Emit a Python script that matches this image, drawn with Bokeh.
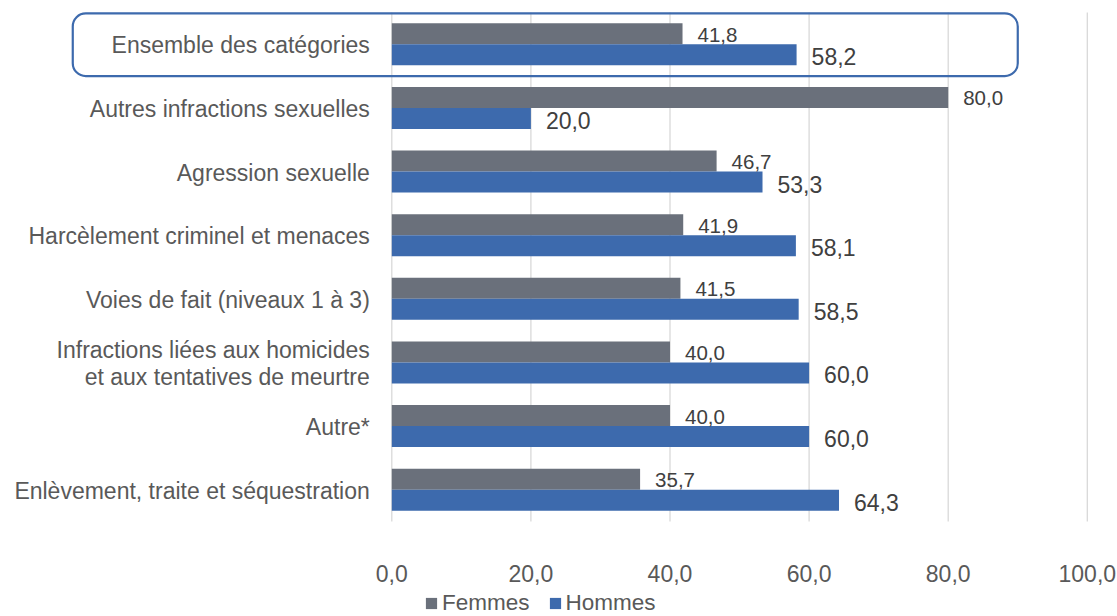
from bokeh.plotting import figure
from bokeh.models import (Range1d, BoxAnnotation, Legend, LegendItem,
                          ColumnDataSource)
from bokeh.embed import file_html
from bokeh.resources import INLINE
from bokeh.core.properties import value

# ---------------- data ----------------
categories = [
    "Ensemble des catégories",
    "Autres infractions sexuelles",
    "Agression sexuelle",
    "Harcèlement criminel et menaces",
    "Voies de fait (niveaux 1 à 3)",
    "Infractions liées aux homicides\net aux tentatives de meurtre",
    "Autre*",
    "Enlèvement, traite et séquestration",
]
femmes = [41.8, 80.0, 46.7, 41.9, 41.5, 40.0, 40.0, 35.7]
hommes = [58.2, 20.0, 53.3, 58.1, 58.5, 60.0, 60.0, 64.3]
x_ticks = [0, 20, 40, 60, 80, 100]
x_tick_labels = ["0,0", "20,0", "40,0", "60,0", "80,0", "100,0"]
series_names = ["Femmes", "Hommes"]

# ---------------- style ----------------
FONT = "Liberation Sans"
GRAY = "#6a707b"
BLUE = "#3d6aad"
TEXT = "#595959"
LABEL = "#404040"
GRID = "#d9d9d9"
BAR_H = 0.33

def fmt(v):
    return f"{v:.1f}".replace(".", ",")

n = len(categories)
pos = list(range(n))
src = ColumnDataSource(dict(
    pos=pos,
    zero=[0] * n,
    cat=categories,
    y_f=[p_ - BAR_H / 2 for p_ in pos],
    y_h=[p_ + BAR_H / 2 for p_ in pos],
    femmes=femmes,
    hommes=hommes,
    lab_f=[fmt(v) for v in femmes],
    lab_h=[fmt(v) for v in hommes],
))
tick_src = ColumnDataSource(dict(
    x=x_ticks,
    label=x_tick_labels,
    top=[-0.5] * len(x_ticks),
    bottom=[n - 0.5] * len(x_ticks),
))

# plotting area spans the whole canvas; the category band region is -0.5 .. n-0.5
p = figure(frame_width=1117, frame_height=616, output_backend="svg", toolbar_location=None,
           x_range=Range1d(-56.26, 104.34), y_range=Range1d(n - 0.5 + 1.493, -0.5 - 0.1886),
           x_axis_location=None, y_axis_location=None,
           min_border_left=0, min_border_right=0, min_border_top=0,
           min_border_bottom=0)
p.outline_line_color = None
p.background_fill_color = "white"
p.border_fill_color = "white"
p.xgrid.grid_line_color = None
p.ygrid.grid_line_color = None

# vertical gridlines at the value ticks
p.segment(x0="x", y0="top", x1="x", y1="bottom", source=tick_src,
          line_color=GRID, line_width=1.3)

# highlight box around first category
box = BoxAnnotation(left=-45.87, right=90.0, top=-0.485, bottom=0.5,
                    fill_alpha=0, line_color=BLUE, line_alpha=1, line_width=2.2,
                    border_radius=13, level="overlay")
p.add_layout(box)

rf = p.hbar(y="y_f", right="femmes", left=0, height=BAR_H, source=src,
            fill_color=GRAY, line_color=None)
rh = p.hbar(y="y_h", right="hommes", left=0, height=BAR_H, source=src,
            fill_color=BLUE, line_color=None)

# value labels
p.text(x="femmes", y="y_f", text="lab_f", source=src, x_offset=15, y_offset=1,
       text_baseline="middle", text_align="left", text_font=value(FONT),
       text_font_size="20.5px", text_color=LABEL)
p.text(x="hommes", y="y_h", text="lab_h", source=src, x_offset=15, y_offset=2,
       text_baseline="middle", text_align="left", text_font=value(FONT),
       text_font_size="23px", text_color=LABEL)

# category labels (left of the value origin)
p.text(x="zero", y="pos", text="cat", source=src, x_offset=-22, y_offset=1,
       text_baseline="middle", text_align="right", text_font=value(FONT),
       text_font_size="23px", text_color=TEXT, text_line_height=1.02)

# value-axis tick labels
p.text(x="x", y="bottom", text="label", source=tick_src, y_offset=52,
       text_baseline="middle", text_align="center", text_font=value(FONT),
       text_font_size="23px", text_color=TEXT)

legend = Legend(items=[LegendItem(label=series_names[0], renderers=[rf]),
                       LegendItem(label=series_names[1], renderers=[rh])],
                orientation="horizontal", location=(424, 0),
                padding=0, margin=0, spacing=18, label_standoff=4,
                glyph_width=14, glyph_height=14, label_height=14,
                label_text_font=FONT, label_text_font_size="22.5px",
                label_text_line_height=1.0,
                label_text_color=TEXT, background_fill_alpha=0,
                border_line_color=None)
p.add_layout(legend, "center")

open("out.html", "w").write(file_html(p, INLINE))
